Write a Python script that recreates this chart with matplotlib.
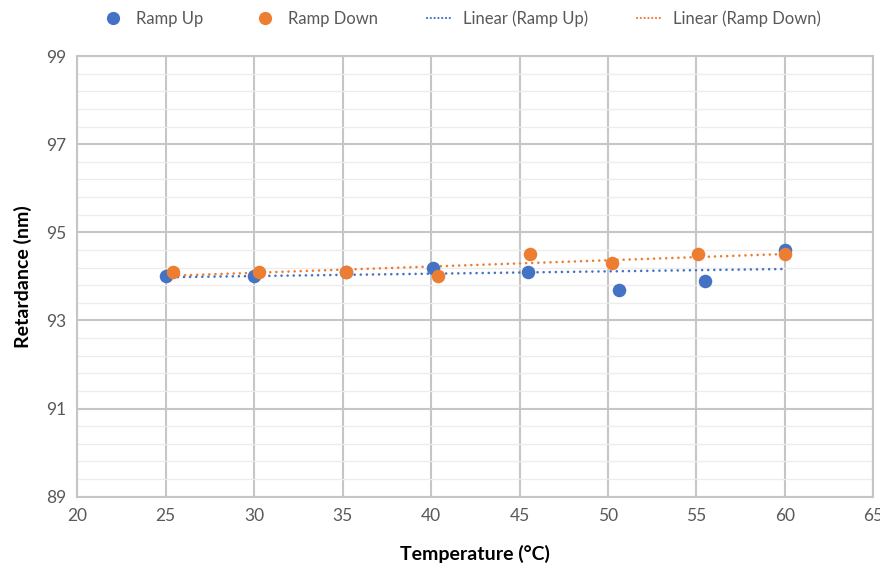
import numpy as np
import matplotlib
matplotlib.use("Agg")
import matplotlib.pyplot as plt
from matplotlib.lines import Line2D

plt.rcParams['font.family'] = ['Lato', 'DejaVu Sans']

up_x = [25.0, 30.0, 35.2, 40.1, 45.5, 50.6, 55.5, 60.0]
up_y = [94.0, 94.0, 94.1, 94.2, 94.1, 93.7, 93.9, 94.6]
down_x = [25.4, 30.3, 35.2, 40.4, 45.6, 50.2, 55.1, 60.0]
down_y = [94.1, 94.1, 94.1, 94.0, 94.5, 94.3, 94.5, 94.5]

x_ticks = [20, 25, 30, 35, 40, 45, 50, 55, 60, 65]
y_ticks = [89, 91, 93, 95, 97, 99]

BLUE = '#4472C4'
ORANGE = '#ED7D31'
GRID = '#c6c6c6'
MINOR = '#ececec'
TXT = '#595959'

fig = plt.figure(figsize=(8.8, 5.64), dpi=100)
ax = fig.add_axes([0.0878, 0.1193, 0.9046, 0.7814])

ax.set_xlim(20, 65)
ax.set_ylim(89, 99)
ax.set_xticks(x_ticks)
ax.set_yticks(y_ticks)
ax.set_yticks(np.arange(89, 99.01, 0.4), minor=True)
ax.grid(True, which='major', color=GRID, linewidth=1.5, zorder=0)
ax.grid(True, which='minor', axis='y', color=MINOR, linewidth=0.9, zorder=0)
ax.set_axisbelow(True)
for s in ax.spines.values():
    s.set_color(GRID)
    s.set_linewidth(1.5)
ax.tick_params(which='both', length=0, labelsize=12.5, colors=TXT, pad=8)

# trendlines
for xs, ys, c in ((up_x, up_y, BLUE), (down_x, down_y, ORANGE)):
    k, b = np.polyfit(xs, ys, 1)
    xx = np.array([min(xs), max(xs)])
    ax.plot(xx, k * xx + b, color=c, linewidth=1.9, linestyle=(0, (0.01, 2.3)),
            dash_capstyle='round', zorder=2)

ax.scatter(up_x, up_y, s=95, color=BLUE, zorder=3, linewidths=0)
ax.scatter(down_x, down_y, s=95, color=ORANGE, zorder=4, linewidths=0)

ax.set_xlabel('Temperature (°C)', fontsize=14, fontweight='bold', color='black', labelpad=15)
ax.set_ylabel('Retardance (nm)', fontsize=14, fontweight='bold', color='black', labelpad=10)

handles = [
    Line2D([], [], marker='o', linestyle='none', color=BLUE, markersize=8.5),
    Line2D([], [], marker='o', linestyle='none', color=ORANGE, markersize=8.5),
    Line2D([], [], color=BLUE, linewidth=1.6, linestyle=(0, (0.01, 1.7)), dash_capstyle='round'),
    Line2D([], [], color=ORANGE, linewidth=1.6, linestyle=(0, (0.01, 1.7)), dash_capstyle='round'),
]
labels = ['Ramp Up', 'Ramp Down', 'Linear (Ramp Up)', 'Linear (Ramp Down)']
leg = fig.legend(handles, labels, loc='center', bbox_to_anchor=(0.523, 0.967), ncol=4,
                 frameon=False, fontsize=12, labelcolor=TXT, handlelength=1.6,
                 columnspacing=2.9, handletextpad=0.6)

fig.savefig('out.png', dpi=100)
